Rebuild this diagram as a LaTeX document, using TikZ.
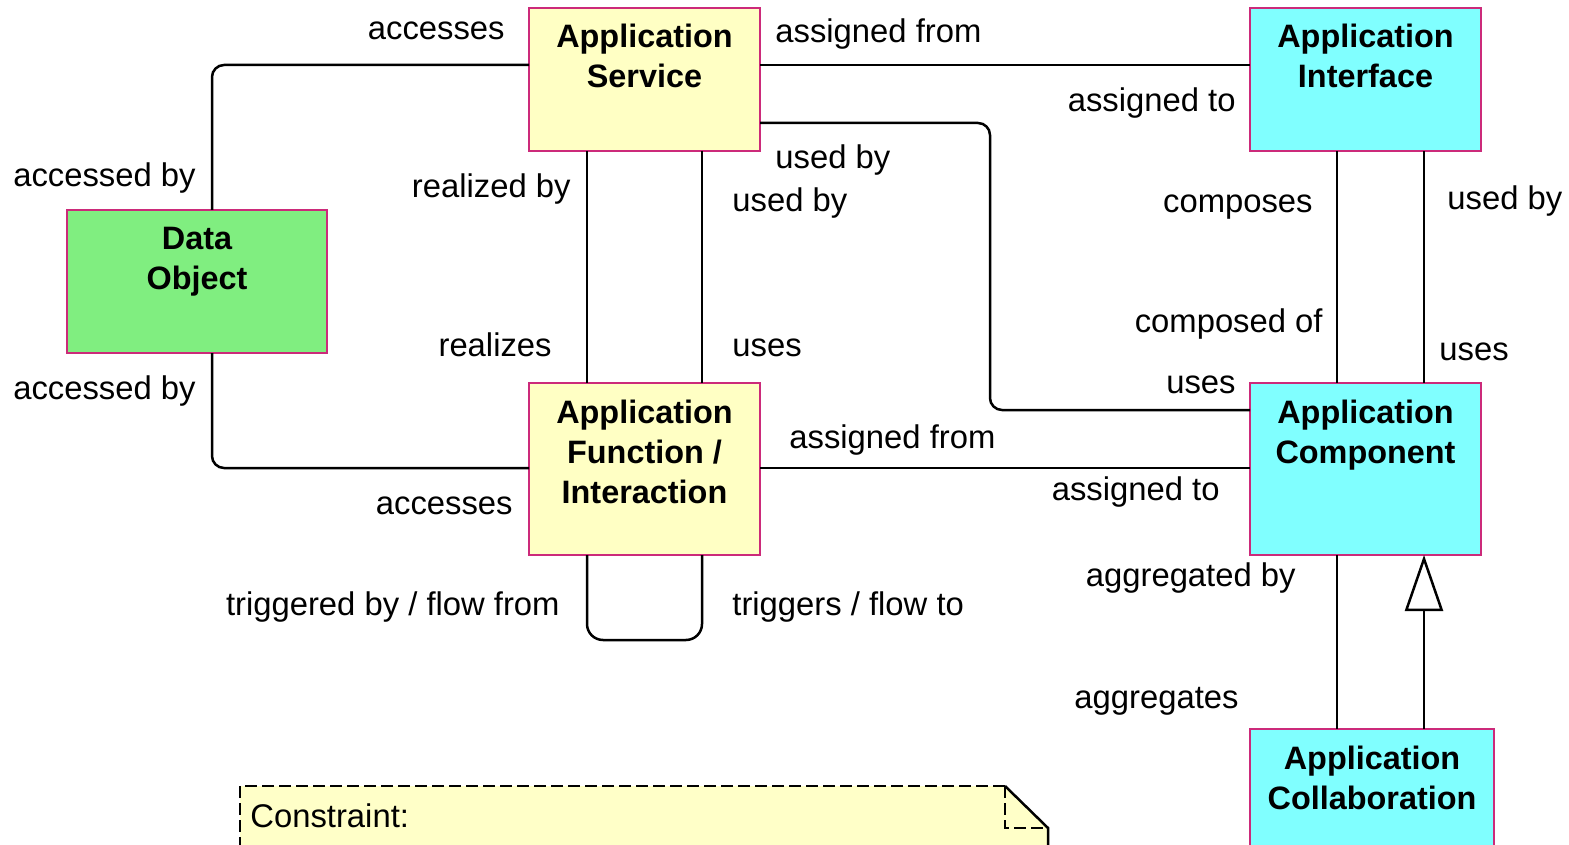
\documentclass[tikz,border=0pt]{standalone}
\usepackage{fontspec}
\setmainfont{Liberation Sans}
\usetikzlibrary{arrows.meta}
\definecolor{bord}{HTML}{CC2A7A}
\definecolor{yel}{HTML}{FFFFC4}
\definecolor{cya}{HTML}{80FFFF}
\definecolor{grn}{HTML}{80EE80}
\definecolor{notey}{HTML}{FFFFC8}
\tikzset{
  box/.style={draw=bord, line width=1pt, anchor=north west, inner sep=0pt, outer sep=0pt},
  btext/.style={font=\bfseries\fontsize{16.2}{20}\selectfont, align=center, anchor=north, inner sep=0pt},
  lab/.style={font=\fontsize{16.4}{20}\selectfont, inner sep=0pt, text height=0.72em, text depth=0.21em, yshift=-3pt},
  conn/.style={line width=1.25pt, rounded corners=6pt},
}
\begin{document}
\begin{tikzpicture}[x=0.5pt, y=-0.5pt]
\useasboundingbox (0,0) rectangle (1569,845);

% note
\fill[notey] (240,786) -- (1005,786) -- (1048,828) -- (1048,900) -- (240,900) -- cycle;
\draw[line width=1.25pt, dash pattern=on 6pt off 2.5pt] (240,900) -- (240,786) -- (1005,786);
\draw[line width=1.25pt] (1005,786) -- (1048,828) -- (1048,900);
\draw[line width=1.25pt, dash pattern=on 6pt off 2.5pt] (1005,786) -- (1005,828) -- (1048,828);
\node[lab, anchor=west] (cons) at (250,816) {Constraint:};
\node[lab, anchor=west] (cons2) at (250,866) {Application interaction can only be assigned};

% boxes
\node[box, fill=yel, minimum width=115.5pt, minimum height=71.5pt] (as) at (529,8) {};
\node[box, fill=cya, minimum width=115.5pt, minimum height=71.5pt] (ai) at (1250,8) {};
\node[box, fill=grn, minimum width=130pt, minimum height=71.5pt] (do) at (67,210) {};
\node[box, fill=yel, minimum width=115.5pt, minimum height=86pt] (af) at (529,383) {};
\node[box, fill=cya, minimum width=115.5pt, minimum height=86pt] (ac) at (1250,383) {};
\node[box, fill=cya, minimum width=122pt, minimum height=70pt] (ak) at (1250,729) {};

\node[btext] (ast) at (as.north |- 0,24) {Application\\Service};
\node[btext] (ait) at (ai.north |- 0,24) {Application\\Interface};
\node[btext] (dot) at (do.north |- 0,227) {Data\\Object};
\node[btext] (aft) at (af.north |- 0,400) {Application\\Function /\\Interaction};
\node[btext] (act) at (ac.north |- 0,400) {Application\\Component};
\node[btext] (akt) at (ak.north |- 0,746) {Application\\Collaboration};

% connectors
\draw[conn] (do.north -| 212,0) |- (as.west |- 0,65);
\draw[conn] (do.south -| 212,0) |- (af.west |- 0,468);
\draw[conn] (as.east |- 0,65) -- (ai.west |- 0,65);
\draw[conn] (as.east |- 0,123) -- (990,123) -- (990,410) -- (ac.west |- 0,410);
\draw[conn] (as.south -| 587,0) -- (af.north -| 587,0);
\draw[conn] (as.south -| 702,0) -- (af.north -| 702,0);
\draw[conn] (ai.south -| 1337,0) -- (ac.north -| 1337,0);
\draw[conn] (ai.south -| 1424,0) -- (ac.north -| 1424,0);
\draw[conn] (af.east |- 0,468) -- (ac.west |- 0,468);
\draw[conn, rounded corners=8pt] (af.south -| 587,0) -- (587,640) -- (702,640) -- (af.south -| 702,0);
\draw[conn] (ac.south -| 1337,0) -- (ak.north -| 1337,0);
\draw[line width=1.25pt, -{Triangle[open, length=28pt, width=19pt]}] (ak.north -| 1424,0) -- (ac.south -| 1424,0);

% labels
\node[lab, anchor=east] (l1) at (505,28) {accesses};
\node[lab, anchor=east] (l2) at (196,175) {accessed by};
\node[lab, anchor=east] (l3) at (196,388) {accessed by};
\node[lab, anchor=east] (l4) at (513,503) {accesses};
\node[lab, anchor=west] (l5) at (775,31) {assigned from};
\node[lab, anchor=east] (l6) at (1236,100) {assigned to};
\node[lab, anchor=west] (l7) at (775,157) {used by};
\node[lab, anchor=east] (l8) at (1236,382) {uses};
\node[lab, anchor=east] (l9) at (571,186) {realized by};
\node[lab, anchor=east] (l10) at (552,345) {realizes};
\node[lab, anchor=west] (l11) at (732,200) {used by};
\node[lab, anchor=west] (l12) at (732,345) {uses};
\node[lab, anchor=east] (l13) at (1313,201) {composes};
\node[lab, anchor=east] (l14) at (1323,321) {composed of};
\node[lab, anchor=west] (l15) at (1447,198) {used by};
\node[lab, anchor=west] (l16) at (1439,349) {uses};
\node[lab, anchor=west] (l17) at (789,437) {assigned from};
\node[lab, anchor=east] (l18) at (1220,489) {assigned to};
\node[lab, anchor=east] (l19) at (560,604) {triggered by / flow from};
\node[lab, anchor=west] (l20) at (732,604) {triggers / flow to};
\node[lab, anchor=east] (l21) at (1296,575) {aggregated by};
\node[lab, anchor=east] (l22) at (1239,697) {aggregates};
\end{tikzpicture}
\end{document}
